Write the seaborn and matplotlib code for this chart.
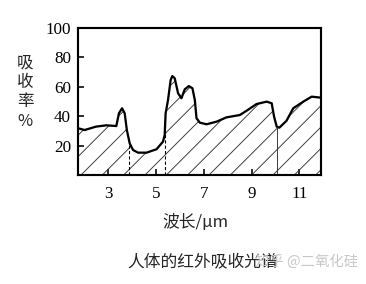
import numpy as np
import pandas as pd
import matplotlib
matplotlib.use("Agg")
import matplotlib.pyplot as plt
import seaborn as sns

# ---- data ----
wavelength = [1.75, 2.03, 2.50, 2.93, 3.35, 3.46, 3.59, 3.70, 3.79, 3.91, 4.05, 4.26,
              4.61, 5.03, 5.30, 5.37, 5.41, 5.51, 5.62, 5.69, 5.79, 5.93, 6.07, 6.21,
              6.38, 6.53, 6.63, 6.70, 6.84, 7.12, 7.54, 7.95, 8.51, 8.79, 9.21, 9.63,
              9.84, 9.94, 10.05, 10.16, 10.46, 10.74, 11.16, 11.51, 11.90]
absorption = [31.8, 30.6, 32.9, 33.8, 33.3, 42.0, 45.4, 42.0, 30.6, 21.5, 17.0, 15.2,
              15.2, 17.5, 22.7, 27.2, 42.0, 51.0, 64.6, 67.3, 65.8, 55.6, 52.2, 58.3,
              60.5, 59.0, 51.0, 38.6, 35.6, 34.5, 36.3, 39.2, 40.8, 43.7, 48.3, 49.9,
              48.8, 39.7, 32.9, 32.2, 36.9, 45.4, 49.9, 53.3, 52.6]
dashed_marks = [3.88, 5.40]
solid_marks = [10.05]
x_ticks = [3, 5, 7, 9, 11]
y_ticks = [20, 40, 60, 80, 100]
x_label = "波长/μm"
y_label = "吸\n收\n率\n%"
title = "人体的红外吸收光谱"
watermark = "知乎 @二氧化硅"

df = pd.DataFrame({"wavelength": wavelength, "absorption": absorption})

sns.set_style("ticks")
plt.rcParams['font.family'] = ['Liberation Serif', 'Noto Sans CJK SC']
plt.rcParams['hatch.linewidth'] = 0.35

DPI = 192
W, H = 366, 284
fig = plt.figure(figsize=(W / DPI, H / DPI), dpi=DPI)
fig.patch.set_facecolor("white")
ax = fig.add_axes([78 / W, 1 - 175 / H, (321 - 78) / W, (175 - 28) / H])

ax.fill_between(df["wavelength"], 0, df["absorption"], facecolor="none",
                edgecolor="#3a3a3a", hatch="///", linewidth=0)
sns.lineplot(data=df, x="wavelength", y="absorption", ax=ax, color="black",
             linewidth=0.85, legend=False)

dashed_h = np.interp(dashed_marks, wavelength, absorption)
solid_h = np.interp(solid_marks, wavelength, absorption)
ax.vlines(dashed_marks, 0, dashed_h, colors="black", linestyles=(0, (3, 2)), linewidth=0.4)
ax.vlines(solid_marks, 0, solid_h, colors="#333333", linewidth=0.35)

ax.set_xlim(1.75, 11.9)
ax.set_ylim(0, 100)
ax.set_xticks(x_ticks)
ax.set_yticks(y_ticks)
ax.set_xlabel("")
ax.set_ylabel("")
for s in ax.spines.values():
    s.set_visible(True)
    s.set_linewidth(0.8)
    s.set_color("black")
ax.tick_params(axis="both", direction="in", length=2.2, width=0.6, labelsize=6.4,
               colors="black")
ax.tick_params(axis="x", pad=4.0)
ax.tick_params(axis="y", pad=2.6)

fig.text(25 / W, 1 - 92 / H, y_label, ha="center", va="center", fontsize=6.2,
         linespacing=1.2, family=['Noto Sans CJK SC', 'DejaVu Sans'])
fig.text(195 / W, 1 - 223 / H, x_label, ha="center", va="center", fontsize=6.3,
         family=['Noto Sans CJK SC', 'Liberation Serif'])
fig.text(203 / W, 1 - 262 / H, title, ha="center", va="center", fontsize=6.3,
         family=['Noto Sans CJK SC', 'DejaVu Sans'])
fig.text(307 / W, 1 - 262 / H, watermark, ha="center", va="center", fontsize=5.4,
         color="#c8c8c8", family=['Noto Sans CJK SC', 'DejaVu Sans'])

fig.savefig("out.png", dpi=DPI, facecolor="white")
